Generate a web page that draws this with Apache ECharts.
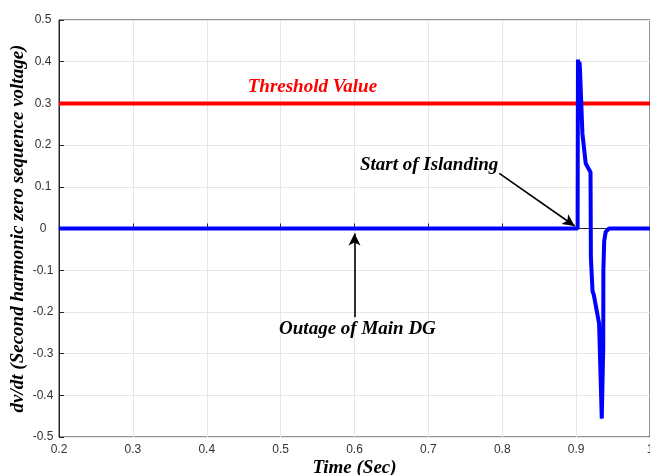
<!DOCTYPE html>
<html>
<head>
<meta charset="utf-8">
<script src="https://cdn.jsdelivr.net/npm/echarts@6/dist/echarts.min.js"></script>
<style>
  html, body { margin: 0; padding: 0; background: #fff; }
  #map { width: 650px; height: 475px; }
</style>
</head>
<body>
<div id="map"></div>
<script>
// 数据：时间 (s) 与 dv/dt
var timeSec = [0.2, 0.9020, 0.9025, 0.9038, 0.9045, 0.9052, 0.9085, 0.9130, 0.9195, 0.9200,
	0.9222, 0.9240, 0.9311, 0.9347, 0.9367, 0.9369, 0.9380, 0.9400, 0.9446, 1.0];
var dvdt = [0, 0, 0.405, 0.32, 0.40, 0.383, 0.228, 0.156, 0.135, -0.07,
	-0.15, -0.16, -0.228, -0.456, -0.285, -0.10, -0.03, -0.008, 0, 0];

var thresholdTime = [0.2, 1.0];
var thresholdValue = [0.3, 0.3];

var xTicks = [0.2, 0.3, 0.4, 0.5, 0.6, 0.7, 0.8, 0.9, 1.0];
var yTicks = [-0.5, -0.4, -0.3, -0.2, -0.1, 0, 0.1, 0.2, 0.3, 0.4, 0.5];

// 注释文字 [t, v, 文本, 颜色]
var notes = [
	[0.543, 0.338, 'Threshold Value', '#ff0000'],
	[0.701, 0.153, 'Start of Islanding', '#000000'],
	[0.604, -0.241, 'Outage of Main DG', '#000000']
];
// 箭头 [起点t, 起点v, 终点t, 终点v]
var arrows = [
	[0.796, 0.132, 0.898, 0.006],
	[0.6, -0.213, 0.6, -0.012]
];

var blueData = [];
for (var i = 0; i < timeSec.length; i++) {
	blueData.push([timeSec[i], dvdt[i]]);
}
var redData = [];
for (var i = 0; i < thresholdTime.length; i++) {
	redData.push([thresholdTime[i], thresholdValue[i]]);
}

var serifFont = '"Liberation Serif", "DejaVu Serif", serif';
var sansFont = '"Liberation Sans", Arial, sans-serif';

var myChart = echarts.init(document.getElementById('map'));

var option = {
	backgroundColor: '#ffffff',
	animation: false,
	grid: {
		left: 59,
		right: 0,
		top: 20,
		bottom: 38,
		outerBoundsMode: 'none',
		containLabel: false,
		show: true,
		borderColor: '#262626',
		borderWidth: 1
	},
	xAxis: {
		type: 'value',
		min: xTicks[0],
		max: xTicks[xTicks.length - 1],
		interval: 0.1,
		name: 'Time (Sec)',
		nameLocation: 'middle',
		nameGap: 22,
		nameMoveOverlap: false,
		nameTextStyle: { fontFamily: serifFont, fontWeight: 'bold', fontStyle: 'italic', fontSize: 19, color: '#000' },
		axisLine: { lineStyle: { color: '#262626', width: 1 } },
		axisTick: { inside: true, length: 5, lineStyle: { color: '#262626' } },
		axisLabel: {
			fontFamily: sansFont, fontSize: 12, color: '#333', margin: 7,
			formatter: function(v) { return String(Math.round(v * 10) / 10); }
		},
		splitLine: { show: true, lineStyle: { color: '#e6e6e6', width: 1 } }
	},
	yAxis: {
		type: 'value',
		min: yTicks[0],
		max: yTicks[yTicks.length - 1],
		interval: 0.1,
		name: 'dv/dt (Second harmonic zero sequence voltage)',
		nameLocation: 'middle',
		nameGap: 31,
		nameMoveOverlap: false,
		nameRotate: 90,
		nameTextStyle: { fontFamily: serifFont, fontWeight: 'bold', fontStyle: 'italic', fontSize: 19, color: '#000' },
		axisLine: { show: true, lineStyle: { color: '#262626', width: 1 } },
		axisTick: { show: true, inside: true, length: 5, lineStyle: { color: '#262626' } },
		axisLabel: {
			fontFamily: sansFont, fontSize: 12, color: '#333', margin: 16, align: 'center',
			formatter: function(v) { return String(Math.round(v * 10) / 10); }
		},
		splitLine: { show: true, lineStyle: { color: '#e6e6e6', width: 1 } }
	},
	series: [
		{
			name: 'threshold',
			type: 'line',
			data: redData,
			symbol: 'none',
			lineStyle: { color: '#ff0000', width: 4 },
			z: 2
		},
		{
			name: 'dvdt',
			type: 'line',
			data: blueData,
			symbol: 'none',
			lineStyle: { color: '#0000ff', width: 4 },
			z: 3,
			markLine: {
				silent: true,
				symbol: ['none', 'arrow'],
				symbolSize: [9, 12],
				label: { show: false },
				lineStyle: { color: '#000', width: 1.6, type: 'solid' },
				data: arrows.map(function(a) {
					return [{ coord: [a[0], a[1]] }, { coord: [a[2], a[3]] }];
				})
			},
			markPoint: {
				silent: true,
				symbol: 'circle',
				symbolSize: 0,
				data: notes.map(function(n) {
					return {
						coord: [n[0], n[1]],
						name: n[2],
						label: {
							show: true,
							position: 'inside',
							formatter: '{b}',
							fontFamily: serifFont,
							fontWeight: 'bold',
							fontStyle: 'italic',
							fontSize: 19,
							color: n[3]
						}
					};
				})
			}
		}
	]
};

myChart.setOption(option);
</script>
</body>
</html>
